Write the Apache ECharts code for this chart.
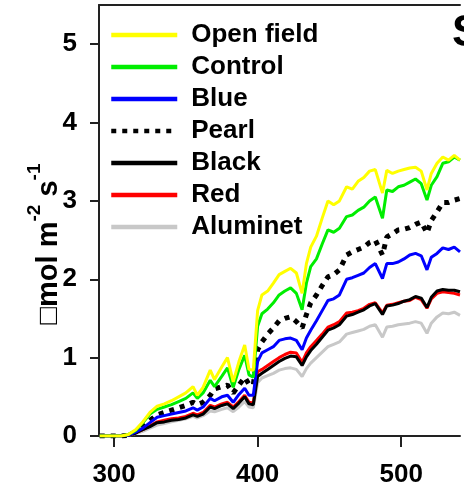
<!DOCTYPE html>
<html>
<head>
<meta charset="utf-8">
<script src="https://cdn.jsdelivr.net/npm/echarts@6/dist/echarts.min.js"></script>
<style>
html,body{margin:0;padding:0;background:#fff;}
#chart{width:464px;height:494px;}
</style>
</head>
<body>
<div id="chart"></div>
<script>
// Wavelength (nm)
const wavelengths = [
  290,305,310,315,320,325,330,335,340,345,
  350,355,358,362,367,370,375,379,383,387,
  391,394,397,400,403,407,411,415,419,423,
  427,431,434,437,441,445,449,453,457,462,
  466,470,474,478,482,487,490,494,498,502,
  506,510,514,518,521,525,529,533,537,541
];
const seriesNames = ['Open field','Control','Blue','Pearl','Black','Red','Aluminet'];
const openField = [
  0,0,0.02,0.08,0.18,0.3,0.38,0.41,0.45,0.5,
  0.55,0.63,0.52,0.62,0.84,0.72,0.88,1.0,0.69,0.95,
  1.16,0.85,0.84,1.6,1.8,1.85,1.95,2.06,2.1,2.14,
  2.08,1.82,2.2,2.41,2.55,2.78,3.0,2.95,3.0,3.18,
  3.15,3.25,3.3,3.38,3.4,3.1,3.39,3.35,3.38,3.4,
  3.42,3.43,3.38,3.14,3.35,3.48,3.56,3.52,3.58,3.52
];
const control = [
  0,0,0.02,0.07,0.17,0.28,0.34,0.37,0.4,0.44,
  0.48,0.55,0.48,0.55,0.71,0.63,0.76,0.87,0.62,0.85,
  1.03,0.78,0.75,1.4,1.56,1.62,1.7,1.8,1.85,1.89,
  1.82,1.61,1.95,2.16,2.26,2.45,2.63,2.6,2.65,2.8,
  2.82,2.88,2.92,3.0,3.05,2.78,3.14,3.12,3.18,3.2,
  3.24,3.28,3.22,3.01,3.2,3.31,3.48,3.5,3.56,3.52
];
const blue = [
  0,0,0.01,0.05,0.1,0.17,0.24,0.26,0.28,0.3,
  0.32,0.36,0.33,0.37,0.48,0.45,0.5,0.52,0.43,0.53,
  0.61,0.52,0.52,0.95,1.06,1.1,1.14,1.22,1.24,1.25,
  1.22,1.1,1.25,1.35,1.47,1.6,1.73,1.75,1.8,2.0,
  2.02,2.05,2.08,2.15,2.2,2.01,2.2,2.2,2.22,2.26,
  2.31,2.33,2.3,2.12,2.28,2.33,2.4,2.38,2.41,2.35
];
const pearl = [
  0,0,0.01,0.05,0.12,0.2,0.27,0.3,0.33,0.36,
  0.39,0.43,0.4,0.43,0.52,0.6,0.63,0.65,0.55,0.65,
  0.75,0.66,0.65,1.1,1.2,1.3,1.38,1.47,1.5,1.52,
  1.46,1.38,1.55,1.7,1.8,1.92,2.03,2.06,2.12,2.31,
  2.35,2.38,2.41,2.47,2.5,2.31,2.54,2.58,2.63,2.64,
  2.66,2.7,2.73,2.59,2.75,2.86,2.98,2.98,3.01,3.03
];
const black = [
  0,0,0.01,0.04,0.08,0.12,0.17,0.18,0.2,0.21,
  0.23,0.27,0.25,0.28,0.37,0.35,0.39,0.41,0.35,0.42,
  0.5,0.41,0.4,0.76,0.8,0.85,0.9,0.95,0.99,1.02,
  1.01,0.9,1.01,1.09,1.17,1.26,1.35,1.38,1.42,1.53,
  1.55,1.58,1.61,1.66,1.69,1.55,1.66,1.67,1.69,1.72,
  1.74,1.78,1.76,1.64,1.77,1.85,1.87,1.86,1.86,1.84
];
const red = [
  0,0,0.01,0.04,0.08,0.13,0.18,0.2,0.22,0.23,
  0.25,0.29,0.27,0.3,0.39,0.37,0.41,0.43,0.37,0.44,
  0.52,0.43,0.42,0.82,0.85,0.9,0.95,1.0,1.04,1.07,
  1.06,0.94,1.06,1.14,1.22,1.3,1.39,1.42,1.46,1.57,
  1.58,1.6,1.63,1.68,1.7,1.57,1.67,1.68,1.7,1.72,
  1.73,1.77,1.74,1.63,1.75,1.82,1.84,1.83,1.82,1.8
];
const aluminet = [
  0,0,0.01,0.03,0.06,0.1,0.14,0.16,0.18,0.2,
  0.22,0.25,0.23,0.26,0.32,0.31,0.34,0.36,0.31,0.37,
  0.44,0.37,0.36,0.68,0.74,0.77,0.8,0.84,0.86,0.87,
  0.85,0.76,0.86,0.93,1.0,1.07,1.14,1.17,1.2,1.3,
  1.32,1.34,1.36,1.4,1.42,1.26,1.39,1.4,1.42,1.43,
  1.44,1.46,1.44,1.31,1.44,1.52,1.57,1.56,1.58,1.54
];
const xTicks = [300, 400, 500];
const yTicks = [0, 1, 2, 3, 4, 5];
const yLabelParts = ['\u25A1mol m', '-2', ' s', '-1'];
const panelLetter = 'S';

const values = [openField, control, blue, pearl, black, red, aluminet];
const colors = ['#ffff00', '#00ee00', '#0000ff', '#000000', '#000000', '#ff0000', '#c8c8c8'];
const FONT = '"Liberation Sans", Arial, sans-serif';

const chart = echarts.init(document.getElementById('chart'), null, {renderer: 'canvas'});

const series = seriesNames.map((name, i) => ({
  name: name,
  type: 'line',
  symbol: 'none',
  smooth: false,
  z: 10 - i,
  clip: true,
  data: wavelengths.map((w, k) => [w, values[i][k]]),
  lineStyle: name === 'Pearl'
    ? {color: colors[i], width: 5, type: [5, 6], cap: 'butt'}
    : {color: colors[i], width: 3},
  itemStyle: {color: colors[i]}
}));

const option = {
  animation: false,
  backgroundColor: '#fff',
  grid: {left: 99, top: 5, right: 4, bottom: 58, containLabel: false},
  legend: {
    orient: 'vertical',
    left: 104,
    top: 17,
    itemWidth: 66,
    itemHeight: 26,
    itemGap: 6,
    data: seriesNames,
    itemStyle: {opacity: 0},
    lineStyle: {width: 4.5},
    textStyle: {fontFamily: FONT, fontWeight: 'bold', fontSize: 26, color: '#000', lineHeight: 26, padding: [0, 0, 0, 9]}
  },
  xAxis: [{
    type: 'value',
    min: 289.5,
    max: 541,
    axisLine: {show: true, onZero: false, lineStyle: {color: '#222', width: 2}},
    axisTick: {show: true, length: 11, customValues: xTicks, lineStyle: {color: '#222', width: 2}},
    axisLabel: {customValues: xTicks, margin: 26, fontFamily: FONT, fontWeight: 'bold', fontSize: 26, color: '#000'},
    splitLine: {show: false}
  }, {
    type: 'value',
    position: 'top',
    min: 289.5,
    max: 541,
    axisLine: {show: true, onZero: false, lineStyle: {color: '#222', width: 2}},
    axisTick: {show: false},
    axisLabel: {show: false},
    splitLine: {show: false}
  }],
  yAxis: {
    type: 'value',
    min: 0,
    max: 5.5,
    interval: 1,
    axisLine: {show: true, lineStyle: {color: '#222', width: 2}},
    axisTick: {show: true, length: 9, customValues: yTicks, lineStyle: {color: '#222', width: 2}},
    axisLabel: {customValues: yTicks, margin: 22, fontFamily: FONT, fontWeight: 'bold', fontSize: 26, color: '#000'},
    splitLine: {show: false}
  },
  graphic: [{
    type: 'text',
    x: 44,
    y: 244,
    rotation: Math.PI / 2,
    style: {
      text: '{a|' + yLabelParts[0] + '}{b|' + yLabelParts[1] + '}{a|' + yLabelParts[2] + '}{b|' + yLabelParts[3] + '}',
      align: 'center',
      verticalAlign: 'middle',
      fill: '#000',
      rich: {
        a: {fontFamily: FONT, fontWeight: 'bold', fontSize: 29, lineHeight: 38, verticalAlign: 'bottom', fill: '#000'},
        b: {fontFamily: FONT, fontWeight: 'bold', fontSize: 19, lineHeight: 19, verticalAlign: 'top', fill: '#000'}
      }
    }
  }, {
    type: 'text',
    x: 452,
    y: 12,
    style: {text: panelLetter, fontFamily: FONT, fontWeight: 'bold', fontSize: 44, fill: '#000'}
  }],
  series: series
};
chart.setOption(option);
</script>
</body>
</html>
